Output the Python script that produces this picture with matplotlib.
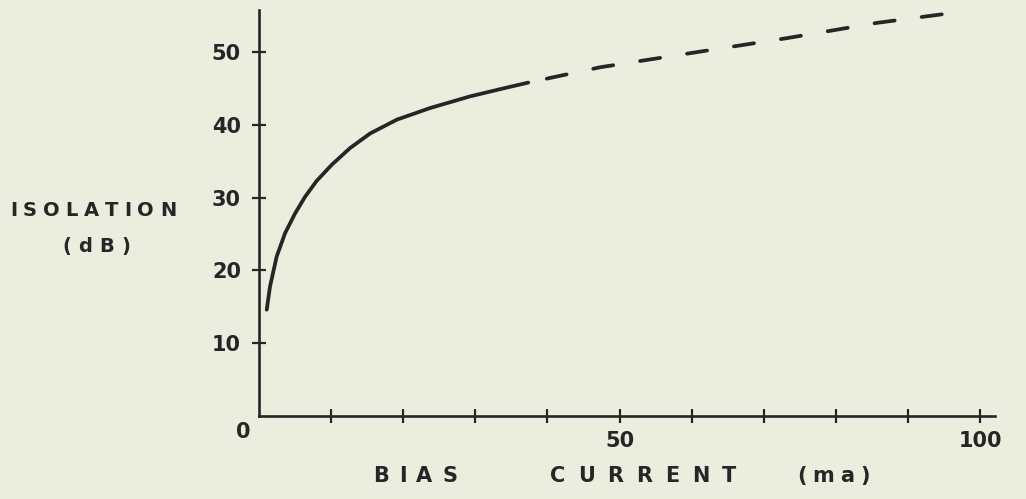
import numpy as np
import matplotlib
matplotlib.use("Agg")
import matplotlib.pyplot as plt

plt.rcParams["lines.scale_dashes"] = False

# Measured isolation versus bias current
bias_measured = [1.07, 1.53, 2.45, 3.61, 4.99, 6.38, 8.0, 10.08, 12.62, 15.4,
                 19.1, 23.72, 29.26, 33.88, 37.35]
isolation_measured = [14.6, 17.8, 21.9, 25.1, 27.8, 30.1, 32.3, 34.5, 36.8, 38.8,
                      40.7, 42.3, 43.9, 45.0, 45.8]

# Extrapolated trend beyond the measured range
bias_extrap = [37.35, 47.3, 60.2, 73.2, 85.7, 94.9]
isolation_extrap = [45.8, 47.9, 49.9, 51.9, 54.0, 55.2]

y_ticks = [10, 20, 30, 40, 50]
x_ticks = [10, 20, 30, 40, 50, 60, 70, 80, 90, 100]
x_tick_labels = {50: "50", 100: "100"}

BG = "#ebeedf"
INK = "#262626"
LW = 2.7

W, H = 1026, 499
fig = plt.figure(figsize=(W / 100, H / 100), dpi=100, facecolor=BG)

x0_px, x1_px = 259, 995
y0_px, y1_px = 416, 10
xmax = (x1_px - x0_px) / ((980 - 259) / 100)
ymax = (y0_px - y1_px) / ((416 - 52) / 50)
ax = fig.add_axes([x0_px / W, (H - y0_px) / H, (x1_px - x0_px) / W, (y0_px - y1_px) / H])
ax.set_facecolor(BG)
ax.set_xlim(0, xmax)
ax.set_ylim(0, ymax)

for side in ("top", "right"):
    ax.spines[side].set_visible(False)
for side in ("left", "bottom"):
    ax.spines[side].set_color(INK)
    ax.spines[side].set_linewidth(1.9)

ax.set_yticks(y_ticks)
ax.set_yticklabels([str(v) for v in y_ticks])
ax.set_xticks(x_ticks)
ax.set_xticklabels([x_tick_labels.get(v, "") for v in x_ticks])
ax.tick_params(axis="y", direction="inout", length=10, width=1.6, color=INK,
               labelsize=15, labelcolor=INK, pad=8)
ax.tick_params(axis="x", direction="inout", length=10, width=1.6, color=INK,
               labelsize=15, labelcolor=INK, pad=6)
for lbl in ax.get_xticklabels() + ax.get_yticklabels():
    lbl.set_fontweight("bold")

ax.plot(bias_measured, isolation_measured, color=INK, lw=LW,
        solid_capstyle="round", solid_joinstyle="round")
# dash pattern in points: begins with a gap so the dashes detach from the solid curve
ax.plot(bias_extrap, isolation_extrap, color=INK, lw=LW,
        linestyle=(20.6, (14.6, 19.6)), dash_capstyle="round")

fig.canvas.draw()
renderer = fig.canvas.get_renderer()


def spaced_text(left_px, right_px, y_px, s, size):
    """Draw s letter by letter, spread evenly between left_px and right_px."""
    chars = [fig.text(0, 1 - y_px / H, ch, fontsize=size, color=INK, ha="left",
                      va="center", fontweight="bold") for ch in s]
    widths = [t.get_window_extent(renderer).width for t in chars]
    gap = (right_px - left_px - sum(widths)) / max(len(s) - 1, 1)
    x = left_px
    for t, w in zip(chars, widths):
        t.set_x(x / W)
        x += w + gap


spaced_text(10, 176, 211, "ISOLATION", 14)
spaced_text(62, 130, 247, "(dB)", 14)
spaced_text(373, 457, 476, "BIAS", 15)
spaced_text(550, 736, 476, "CURRENT", 15)
spaced_text(797, 870, 476, "(ma)", 15)

# Origin label sits below-left of the corner
fig.text(243 / W, 1 - 432 / H, "0", fontsize=15, color=INK, ha="center",
         va="center", fontweight="bold")

fig.savefig("out.png", dpi=100, facecolor=BG)
